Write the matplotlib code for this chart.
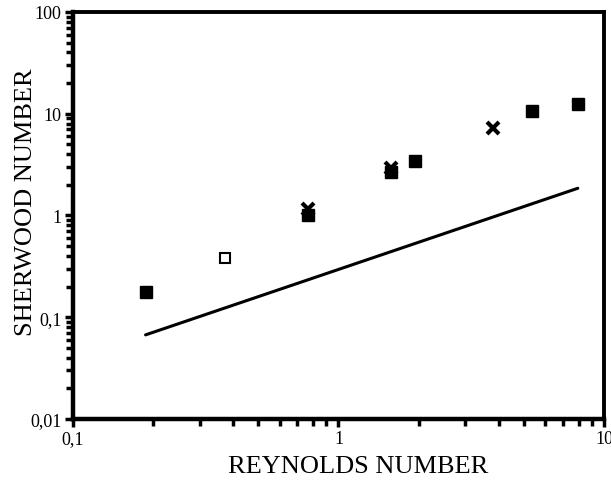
import numpy as np
import matplotlib
matplotlib.use('Agg')
import matplotlib.pyplot as plt
from matplotlib.ticker import FixedLocator, FixedFormatter, LogLocator, NullFormatter

plt.rcParams['font.family'] = ['Liberation Serif', 'DejaVu Serif']

# filled squares
re_filled = [0.188, 0.77, 1.58, 1.94, 5.36, 7.98]
sh_filled = [0.177, 1.0, 2.65, 3.4, 10.6, 12.5]
# open square
re_open = [0.374]
sh_open = [0.38]
# crosses
re_cross = [0.77, 1.58, 3.82]
sh_cross = [1.15, 2.9, 7.3]
# correlation line
re_line = [0.188, 7.95]
sh_line = [0.067, 1.85]

W, H = 611, 481
fig = plt.figure(figsize=(W / 100, H / 100), dpi=100)
ax = fig.add_axes([0.119, 0.127, 0.870, 0.846])

ax.plot(re_line, sh_line, color='black', lw=2.2, solid_capstyle='round')
ax.plot(re_filled, sh_filled, 's', color='black', ms=8, mec='black')
ax.plot(re_open, sh_open, 's', mfc='white', mec='black', ms=7, mew=1.5)
ax.plot(re_cross, sh_cross, 'x', color='black', ms=8, mew=3)

ax.set_xscale('log')
ax.set_yscale('log')
ax.set_xlim(0.1, 10)
ax.set_ylim(0.01, 100)

ax.xaxis.set_major_locator(FixedLocator([0.1, 1, 10]))
ax.xaxis.set_major_formatter(FixedFormatter(['0,1', '1', '10']))
ax.yaxis.set_major_locator(FixedLocator([0.01, 0.1, 1, 10, 100]))
ax.yaxis.set_major_formatter(FixedFormatter(['0,01', '0,1', '1', '10', '100']))
ax.xaxis.set_minor_locator(LogLocator(base=10, subs=np.arange(2, 10)))
ax.yaxis.set_minor_locator(LogLocator(base=10, subs=np.arange(2, 10)))
ax.xaxis.set_minor_formatter(NullFormatter())
ax.yaxis.set_minor_formatter(NullFormatter())

ax.tick_params(which='both', direction='out', width=2.5, top=False, right=False,
               labelsize=13, pad=2)
ax.tick_params(which='major', length=6)
ax.tick_params(which='minor', length=5)

for s in ['left', 'bottom']:
    ax.spines[s].set_linewidth(3.2)
for s in ['top', 'right']:
    ax.spines[s].set_linewidth(2.8)

# axis titles placed where the reference has them
fig.text(358 / W, 1 - 473 / H, 'REYNOLDS NUMBER', fontsize=19,
         ha='center', va='baseline', rotation_mode='anchor')
fig.text(32 / W, 1 - 202 / H, 'SHERWOOD NUMBER', fontsize=19, rotation=90,
         ha='center', va='baseline', rotation_mode='anchor')

fig.savefig('out.png', dpi=100)
